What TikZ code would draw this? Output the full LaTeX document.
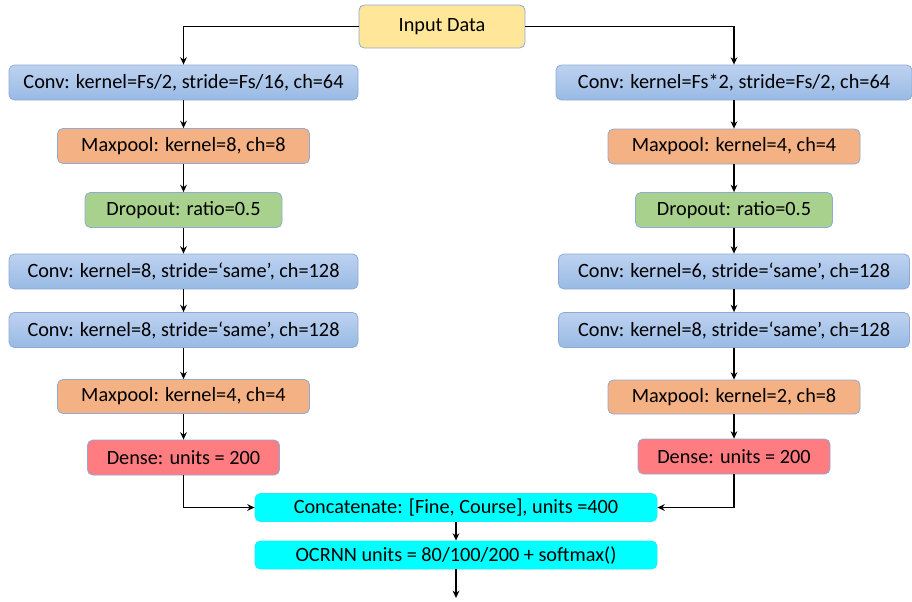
\documentclass[tikz,border=0pt]{standalone}
\usepackage{fontspec}
\setmainfont{Carlito}
\usetikzlibrary{arrows.meta,positioning}
\definecolor{boxLine}{RGB}{143,170,214}
\definecolor{inYellow}{RGB}{255,230,153}
\definecolor{convTop}{RGB}{190,210,240}
\definecolor{convBot}{RGB}{152,186,228}
\definecolor{poolOrange}{RGB}{244,177,131}
\definecolor{dropGreen}{RGB}{169,209,142}
\definecolor{denseRed}{RGB}{255,124,128}
\definecolor{mergeCyan}{RGB}{0,255,255}

\begin{document}
\begin{tikzpicture}[x=0.75pt,y=-0.75pt,
  blk/.style={rectangle,draw=boxLine,line width=0.6pt,rounded corners=4pt,
              minimum height=26.25pt,inner sep=0pt,align=center,
              font=\fontsize{15.2}{18}\selectfont},
  inp/.style={blk,fill=inYellow,minimum width=124.5pt,minimum height=32.25pt},
  conv/.style={blk,top color=convTop,bottom color=convBot},
  pool/.style={blk,fill=poolOrange,minimum width=189pt},
  drop/.style={blk,fill=dropGreen,minimum width=147.75pt},
  dense/.style={blk,fill=denseRed,minimum width=144pt},
  merge/.style={blk,fill=mergeCyan,draw=mergeCyan!80!boxLine,minimum width=301.5pt,minimum height=21pt},
  arr/.style={-{Stealth[length=5.5pt,width=5pt]},line width=1pt}
]
  \useasboundingbox (0,0) rectangle (912,601);

  \node[inp](input) at (442,26.5) {Input Data};

  \node[conv,minimum width=261.75pt](lconva) at (183.5,82.5) {Conv: kernel=Fs/2, stride=Fs/16, ch=64};
  \node[pool](lpoola) at (183.5,146) {Maxpool: kernel=8, ch=8};
  \node[drop](ldrop)  at (183.5,210) {Dropout: ratio=0.5};
  \node[conv,minimum width=261.75pt](lconvb) at (183.5,271.5) {Conv: kernel=8, stride=`same', ch=128};
  \node[conv,minimum width=261.75pt](lconvc) at (183.5,330) {Conv: kernel=8, stride=`same', ch=128};
  \node[pool,minimum height=25.5pt](lpoolb) at (183.5,396.5) {Maxpool: kernel=4, ch=4};
  \node[dense](ldense) at (183.5,457.5) {Dense: units = 200};

  \node[conv,minimum width=267pt](rconva) at (734,82.5) {Conv: kernel=Fs*2, stride=Fs/2, ch=64};
  \node[pool](rpoola) at (734,146.5) {Maxpool: kernel=4, ch=4};
  \node[drop](rdrop)  at (734,210) {Dropout: ratio=0.5};
  \node[conv,minimum width=263.25pt](rconvb) at (734,271.5) {Conv: kernel=6, stride=`same', ch=128};
  \node[conv,minimum width=263.25pt](rconvc) at (734,330) {Conv: kernel=8, stride=`same', ch=128};
  \node[pool,minimum height=25.5pt](rpoolb) at (734,397) {Maxpool: kernel=2, ch=8};
  \node[dense](rdense) at (734,456.5) {Dense: units = 200};

  \node[merge](concat) at (456,507.5) {Concatenate: [Fine, Course], units =400};
  \node[merge](ocrnn)  at (456,555) {OCRNN units = 80/100/200 + softmax()};
  \coordinate (out) at (456,598);

  \draw[arr](input.west) -| (lconva.north);
  \draw[arr](input.east) -| (rconva.north);
  \draw[arr](lconva)--(lpoola);
  \draw[arr](lpoola)--(ldrop);
  \draw[arr](ldrop)--(lconvb);
  \draw[arr](lconvb)--(lconvc);
  \draw[arr](lconvc)--(lpoolb);
  \draw[arr](lpoolb)--(ldense);
  \draw[arr](rconva)--(rpoola);
  \draw[arr](rpoola)--(rdrop);
  \draw[arr](rdrop)--(rconvb);
  \draw[arr](rconvb)--(rconvc);
  \draw[arr](rconvc)--(rpoolb);
  \draw[arr](rpoolb)--(rdense);
  \draw[arr](ldense.south) |- (concat.west);
  \draw[arr](rdense.south) |- (concat.east);
  \draw[arr](concat)--(ocrnn);
  \draw[arr](ocrnn)--(out);
\end{tikzpicture}
\end{document}
